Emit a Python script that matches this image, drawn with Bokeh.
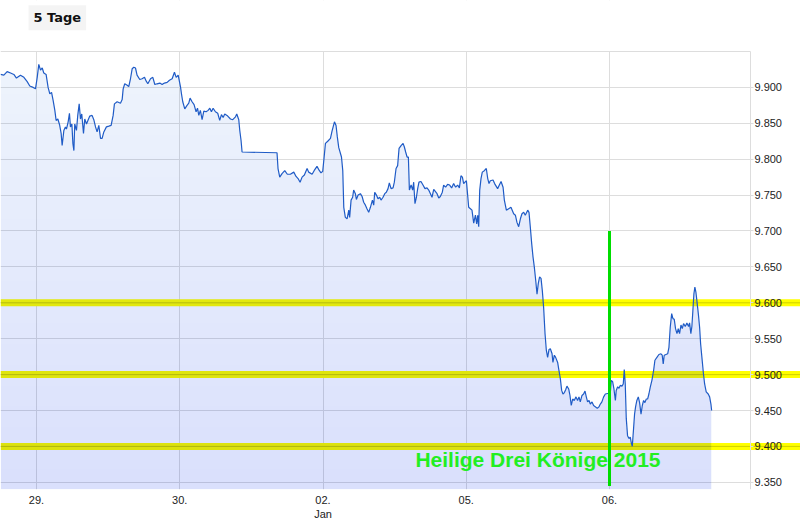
import numpy as np
from bokeh.plotting import figure
from bokeh.models import Range1d, LinearAxis, FixedTicker, Span, BoxAnnotation, Label
from bokeh.embed import file_html
from bokeh.resources import INLINE

# ---------------- data ----------------
day_ticks = [0, 1, 2, 3, 4]
day_labels = ["29.", "30.", "02.\nJan", "05.", "06."]

y_ticks = [9350, 9400, 9450, 9500, 9550, 9600, 9650, 9700, 9750, 9800, 9850, 9900]
y_labels = ["9.350", "9.400", "9.450", "9.500", "9.550", "9.600",
            "9.650", "9.700", "9.750", "9.800", "9.850", "9.900"]

levels = [9600, 9500, 9400]            # yellow marked levels
event_day = 4                          # 06. Jan
event_span = [9345, 9700]              # green marker from / to
event_text = "Heilige Drei Könige 2015"
button_text = "5 Tage"

# time in trading days (0 = 29.12.), DAX points
t = [-0.251, -0.228, -0.205, -0.181, -0.158, -0.140, -0.112, -0.088, -0.065, -0.047,
     -0.023, -0.007, 0.005, 0.016, 0.028, 0.040, 0.051, 0.067, 0.081, 0.093,
     0.105, 0.116, 0.128, 0.137, 0.149, 0.161, 0.172, 0.179, 0.191, 0.202,
     0.209, 0.221, 0.230, 0.237, 0.247, 0.254, 0.261, 0.267, 0.279, 0.288,
     0.298, 0.307, 0.316, 0.328, 0.337, 0.349, 0.361, 0.372, 0.388, 0.400,
     0.412, 0.423, 0.435, 0.447, 0.458, 0.470, 0.488, 0.505, 0.521, 0.535,
     0.544, 0.563, 0.586, 0.598, 0.605, 0.616, 0.633, 0.644, 0.656, 0.668,
     0.679, 0.691, 0.702, 0.721, 0.737, 0.754, 0.765, 0.777, 0.796, 0.812,
     0.826, 0.842, 0.861, 0.877, 0.893, 0.912, 0.928, 0.947, 0.963, 0.975,
     0.989, 1.005, 1.012, 1.021, 1.035, 1.051, 1.063, 1.072, 1.086, 1.100,
     1.114, 1.124, 1.133, 1.144, 1.156, 1.168, 1.184, 1.198, 1.210, 1.221,
     1.233, 1.249, 1.265, 1.279, 1.291, 1.303, 1.314, 1.330, 1.354, 1.370,
     1.389, 1.398, 1.412, 1.419, 1.428, 1.435, 1.679, 1.686, 1.698, 1.714,
     1.733, 1.751, 1.772, 1.796, 1.812, 1.826, 1.840, 1.854, 1.870, 1.889,
     1.900, 1.924, 1.938, 1.958, 1.975, 1.986, 1.998, 2.007, 2.017, 2.033,
     2.052, 2.063, 2.080, 2.091, 2.100, 2.110, 2.129, 2.138, 2.145, 2.156,
     2.168, 2.180, 2.186, 2.196, 2.207, 2.214, 2.226, 2.233, 2.245, 2.261,
     2.273, 2.284, 2.296, 2.307, 2.319, 2.331, 2.345, 2.354, 2.361, 2.373,
     2.384, 2.396, 2.405, 2.419, 2.431, 2.442, 2.454, 2.463, 2.475, 2.489,
     2.498, 2.510, 2.521, 2.531, 2.545, 2.559, 2.568, 2.577, 2.587, 2.596,
     2.603, 2.615, 2.626, 2.633, 2.642, 2.652, 2.661, 2.670, 2.684, 2.698,
     2.712, 2.726, 2.738, 2.761, 2.773, 2.796, 2.808, 2.819, 2.833, 2.842,
     2.856, 2.870, 2.884, 2.898, 2.912, 2.926, 2.940, 2.952, 2.963, 2.973,
     2.982, 2.991, 3.001, 3.008, 3.017, 3.029, 3.040, 3.052, 3.064, 3.073,
     3.080, 3.087, 3.094, 3.103, 3.112, 3.126, 3.140, 3.150, 3.159, 3.168,
     3.187, 3.198, 3.219, 3.231, 3.243, 3.257, 3.266, 3.280, 3.296, 3.312,
     3.331, 3.343, 3.354, 3.366, 3.378, 3.389, 3.401, 3.412, 3.429, 3.438,
     3.447, 3.457, 3.466, 3.475, 3.485, 3.494, 3.503, 3.512, 3.522, 3.531,
     3.540, 3.550, 3.559, 3.568, 3.578, 3.587, 3.599, 3.605, 3.615, 3.624,
     3.638, 3.647, 3.657, 3.666, 3.675, 3.685, 3.694, 3.703, 3.715, 3.724,
     3.733, 3.743, 3.754, 3.766, 3.777, 3.787, 3.796, 3.808, 3.819, 3.829,
     3.838, 3.847, 3.857, 3.866, 3.878, 3.889, 3.903, 3.915, 3.926, 3.936,
     3.947, 3.959, 3.971, 3.994, 4.006, 4.012, 4.022, 4.031, 4.041, 4.047,
     4.057, 4.066, 4.075, 4.087, 4.096, 4.103, 4.110, 4.117, 4.126, 4.136,
     4.145, 4.152, 4.159, 4.168, 4.175, 4.182, 4.191, 4.201, 4.210, 4.220,
     4.229, 4.238, 4.247, 4.257, 4.266, 4.275, 4.285, 4.296, 4.308, 4.317,
     4.331, 4.345, 4.359, 4.368, 4.375, 4.382, 4.394, 4.406, 4.415, 4.424,
     4.434, 4.443, 4.452, 4.461, 4.471, 4.480, 4.489, 4.499, 4.508, 4.517,
     4.529, 4.540, 4.552, 4.559, 4.568, 4.575, 4.582, 4.589, 4.596, 4.603,
     4.610, 4.620, 4.629, 4.636, 4.645, 4.655, 4.664, 4.675, 4.689, 4.699,
     4.708, 4.713]

price = [9918, 9917, 9922, 9920, 9918, 9913, 9917, 9914, 9908, 9902,
         9900, 9898, 9914, 9932, 9924, 9927, 9920, 9918, 9900, 9891,
         9893, 9882, 9868, 9854, 9856, 9848, 9836, 9819, 9840, 9845,
         9842, 9852, 9864, 9845, 9849, 9822, 9812, 9849, 9840, 9861,
         9877, 9856, 9863, 9836, 9856, 9849, 9855, 9860, 9861, 9855,
         9845, 9838, 9847, 9829, 9829, 9838, 9845, 9846, 9847, 9861,
         9877, 9880, 9878, 9883, 9898, 9905, 9903, 9901, 9912, 9926,
         9928, 9927, 9917, 9911, 9912, 9914, 9909, 9905, 9912, 9914,
         9904, 9905, 9906, 9904, 9906, 9907, 9910, 9912, 9921, 9914,
         9917, 9901, 9891, 9880, 9870, 9875, 9878, 9885, 9880, 9876,
         9866, 9871, 9861, 9868, 9855, 9867, 9866, 9868, 9871, 9866,
         9871, 9866, 9864, 9854, 9862, 9858, 9863, 9861, 9856, 9855,
         9859, 9863, 9855, 9840, 9826, 9810, 9809, 9787, 9775, 9780,
         9784, 9779, 9779, 9782, 9776, 9773, 9768, 9775, 9778, 9787,
         9782, 9779, 9784, 9790, 9784, 9781, 9783, 9801, 9822, 9825,
         9829, 9839, 9852, 9847, 9831, 9816, 9803, 9784, 9733, 9719,
         9717, 9729, 9719, 9743, 9747, 9757, 9752, 9744, 9750, 9752,
         9748, 9740, 9736, 9731, 9726, 9733, 9743, 9736, 9754, 9750,
         9745, 9747, 9743, 9747, 9752, 9754, 9759, 9767, 9759, 9760,
         9768, 9787, 9791, 9815, 9819, 9822, 9817, 9810, 9803, 9803,
         9757, 9764, 9757, 9768, 9738, 9747, 9759, 9768, 9769, 9764,
         9759, 9760, 9757, 9747, 9758, 9752, 9746, 9748, 9754, 9764,
         9761, 9765, 9764, 9760, 9766, 9761, 9764, 9760, 9777, 9775,
         9766, 9768, 9770, 9754, 9733, 9731, 9729, 9711, 9722, 9710,
         9722, 9706, 9757, 9773, 9782, 9784, 9787, 9773, 9766, 9770,
         9771, 9766, 9759, 9764, 9769, 9761, 9743, 9729, 9731, 9733,
         9724, 9722, 9712, 9706, 9717, 9724, 9726, 9722, 9729, 9726,
         9706, 9682, 9664, 9650, 9631, 9612, 9627, 9636, 9634, 9617,
         9594, 9557, 9534, 9524, 9535, 9536, 9529, 9517, 9527, 9524,
         9517, 9506, 9494, 9478, 9473, 9475, 9479, 9484, 9480, 9471,
         9457, 9466, 9464, 9469, 9464, 9469, 9462, 9471, 9473, 9477,
         9469, 9462, 9464, 9459, 9462, 9457, 9455, 9453, 9455, 9459,
         9462, 9469, 9473, 9474, 9475, 9492, 9490, 9480, 9464, 9478,
         9483, 9481, 9485, 9484, 9487, 9507, 9487, 9439, 9415, 9411,
         9413, 9405, 9400, 9425, 9445, 9455, 9464, 9469, 9461, 9445,
         9457, 9464, 9461, 9466, 9466, 9473, 9483, 9492, 9506, 9520,
         9524, 9528, 9529, 9527, 9515, 9527, 9528, 9529, 9538, 9566,
         9585, 9578, 9577, 9564, 9557, 9564, 9557, 9569, 9564, 9571,
         9567, 9572, 9567, 9572, 9557, 9567, 9589, 9612, 9622, 9615,
         9603, 9585, 9566, 9543, 9524, 9503, 9487, 9476, 9473, 9469,
         9459, 9450]

# ---------------- layout ----------------
X0, X1 = -0.2513, 5.3333       # visible trading-day window
AXIS_X = 4.984                 # where the price scale sits
Y0 = 9340                      # bottom of plot area
PLOT_TOP = 9950                # top border of plot area
Y_END = 10021                  # canvas top (leaves room for the button)

p = figure(frame_width=800, frame_height=489,
           x_range=Range1d(X0, X1), y_range=Range1d(Y0, Y_END),
           x_axis_location=None, y_axis_location=None,
           toolbar_location=None, output_backend="svg",
           title_location=None,
           min_border_left=0, min_border_right=0,
           min_border_top=0, min_border_bottom=0,
           outline_line_color=None)
p.background_fill_color = "white"
p.border_fill_color = "white"

# grids
p.xgrid.ticker = FixedTicker(ticks=day_ticks)
p.ygrid.ticker = FixedTicker(ticks=[Y0] + y_ticks + [PLOT_TOP])
for g in (p.xgrid, p.ygrid):
    g.grid_line_color = "#dddddd"
    g.grid_line_width = 1

# blank the header strip and the area right of the price scale
p.add_layout(BoxAnnotation(bottom=PLOT_TOP + 0.8, fill_color="white", fill_alpha=1.0,
                           line_color=None, level="underlay"))
p.add_layout(BoxAnnotation(left=AXIS_X, fill_color="white", fill_alpha=1.0,
                           line_color=None, level="underlay"))

# yellow levels
for lv in levels:
    p.add_layout(Span(location=lv, dimension="width", line_color="#ffff00",
                      line_width=7, level="underlay"))
    p.add_layout(Span(location=lv, dimension="width", line_color="#c4c400",
                      line_width=1, line_alpha=0.8, level="underlay"))

# translucent gradient area
t_arr = np.array(t, dtype=float)
p_arr = np.array(price, dtype=float)
fill_col = "#005ed8"
p.varea(x=t_arr, y1=Y0, y2=p_arr, fill_color=fill_col, fill_alpha=0.067)
n_layers = 20
for k in range(1, n_layers + 1):
    top = PLOT_TOP - (PLOT_TOP - Y0) * k / (n_layers + 1)
    p.varea(x=t_arr, y1=Y0, y2=np.minimum(p_arr, top),
            fill_color=fill_col, fill_alpha=0.0056)

# price line
p.line(t_arr, p_arr, line_color="#1f5bc6", line_width=1.2)

# green event marker
p.segment(x0=[event_day], y0=[event_span[0]], x1=[event_day], y1=[event_span[1]],
          line_color="#00dd00", line_width=3)

p.add_layout(Label(x=2.645, y=9366, text=event_text,
                   text_font="Liberation Sans", text_font_style="bold",
                   text_font_size="21px", text_color="#22ee22"))

# "5 Tage" button
p.add_layout(Label(x=-0.0558, y=9997, text=button_text,
                   text_font="DejaVu Sans", text_font_style="bold",
                   text_font_size="13px", text_color="#111111",
                   text_baseline="middle", padding=5,
                   background_fill_color="#f4f4f4"))

# axes
yaxis = LinearAxis(fixed_location=AXIS_X, bounds=(Y0, PLOT_TOP),
                   ticker=FixedTicker(ticks=y_ticks),
                   major_label_overrides=dict(zip(y_ticks, y_labels)),
                   axis_line_color="#dddddd", major_tick_line_color="#dddddd",
                   major_tick_in=0, major_tick_out=3, minor_tick_line_color=None,
                   major_label_standoff=1,
                   major_label_text_font="Liberation Sans",
                   major_label_text_font_size="11px",
                   major_label_text_color="#222222")
p.add_layout(yaxis, "right")

xaxis = LinearAxis(ticker=FixedTicker(ticks=day_ticks),
                   major_label_overrides=dict(zip(day_ticks, day_labels)),
                   axis_line_color=None, major_tick_line_color=None,
                   major_tick_in=0, major_tick_out=0, minor_tick_line_color=None,
                   major_label_standoff=4,
                   major_label_text_font="Liberation Sans",
                   major_label_text_font_size="11px",
                   major_label_text_color="#222222")
p.add_layout(xaxis, "below")

open("out.html", "w").write(file_html(p, INLINE))
